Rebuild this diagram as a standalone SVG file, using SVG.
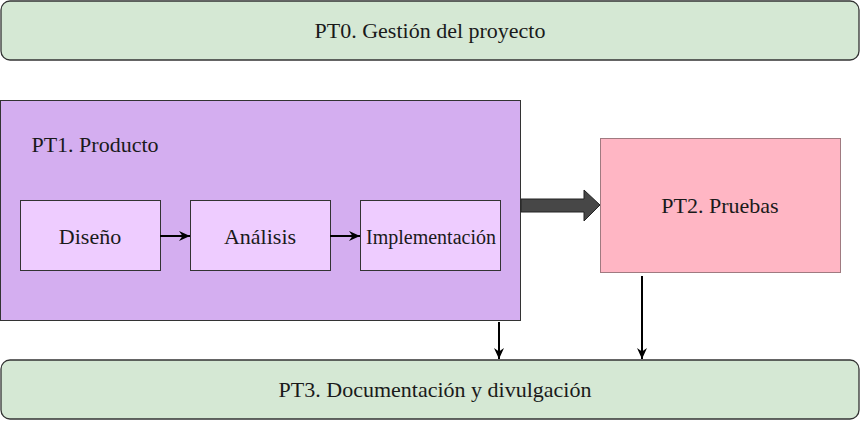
<svg xmlns="http://www.w3.org/2000/svg" width="861" height="421" viewBox="0 0 861 421">
<defs>
<style>
.t{font-family:"Liberation Serif","Times New Roman",serif;fill:#1a1a1a;text-anchor:middle;dominant-baseline:central;font-size:22px}
.green{fill:#d5e8d4;stroke:#333;stroke-width:1.3}
.sub{fill:#eeccff;stroke:#333;stroke-width:1}
.ln{stroke:#000;stroke-width:2;fill:none}
</style>
<marker id="ah" markerWidth="12" markerHeight="12" refX="11" refY="6" orient="auto" markerUnits="userSpaceOnUse">
<path d="M0,1 L11,6 L0,11 L3.5,6 Z" fill="#000"/>
</marker>
</defs>
<rect width="861" height="421" fill="#fff"/>
<g id="pt0"><rect class="green" x="1" y="1" width="858" height="59" rx="9"/><text class="t" x="430" y="30">PT0. Gestión del proyecto</text></g>
<g id="pt1"><rect x="0.5" y="100.5" width="520" height="220" fill="#d4aef0" stroke="#333"/><text class="t" x="95" y="144">PT1. Producto</text></g>
<g id="diseno"><rect class="sub" x="20.5" y="200.5" width="140" height="70"/><text class="t" x="90" y="236">Diseño</text></g>
<g id="analisis"><rect class="sub" x="190.5" y="200.5" width="140" height="70"/><text class="t" x="260" y="236">Análisis</text></g>
<g id="impl"><rect class="sub" x="360.5" y="200.5" width="140" height="70"/><text class="t" x="431" y="237" style="font-size:20px">Implementación</text></g>
<g id="pt2"><rect x="600.5" y="138.5" width="240" height="134" fill="#ffb6c4" stroke="#a07a80"/><text class="t" x="720" y="205">PT2. Pruebas</text></g>
<g id="pt3"><rect class="green" x="1" y="360" width="858" height="59" rx="9"/><text class="t" x="435" y="389">PT3. Documentación y divulgación</text></g>
<g id="connectors">
<line class="ln" x1="160" y1="236" x2="190" y2="236" marker-end="url(#ah)"/>
<line class="ln" x1="330" y1="236" x2="360" y2="236" marker-end="url(#ah)"/>
<path d="M521,199 L584,199 L584,190 L600,205 L584,221 L584,212 L521,212 Z" fill="#474747" stroke="#222" stroke-width="1"/>
<line class="ln" x1="499" y1="322" x2="499" y2="359" marker-end="url(#ah)"/>
<line class="ln" x1="642" y1="276" x2="642" y2="359" marker-end="url(#ah)"/>
</g>
</svg>
